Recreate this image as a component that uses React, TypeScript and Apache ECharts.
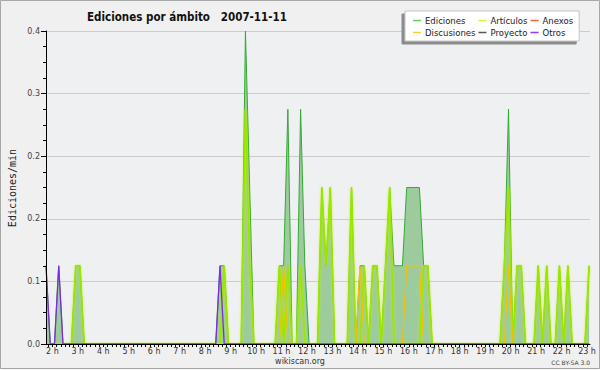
import React, { useEffect, useRef } from "react";
import * as echarts from "echarts";

// 10-minute bins starting at 1:45 (minutes since midnight)
const startMinute = 105;
const binMinutes = 10;

const ediciones = [
  0.1, 0, 0, 0.1, 0, 0, 0, 0.1, 0.1, 0,
  0, 0, 0, 0, 0, 0, 0, 0, 0, 0,
  0, 0, 0, 0, 0, 0, 0, 0, 0, 0,
  0, 0, 0, 0, 0, 0, 0, 0, 0, 0,
  0, 0.1, 0.1, 0, 0, 0, 0, 0.4, 0.2, 0,
  0, 0, 0, 0, 0, 0.1, 0.1, 0.3, 0, 0,
  0.3, 0.1, 0, 0, 0, 0.2, 0.1, 0.2, 0, 0,
  0, 0, 0.2, 0, 0.1, 0.1, 0, 0.1, 0.1, 0,
  0.1, 0.2, 0.1, 0.1, 0.1, 0.2, 0.2, 0.2, 0.2, 0.1,
  0.1, 0, 0, 0, 0, 0, 0, 0, 0, 0,
  0, 0, 0, 0, 0, 0, 0, 0, 0.1, 0.3,
  0, 0.1, 0.1, 0, 0, 0, 0.1, 0, 0.1, 0,
  0, 0.1, 0, 0.1, 0, 0, 0, 0, 0.1,
];

const articulos = [
  0, 0, 0, 0, 0, 0, 0, 0.1, 0.1, 0,
  0, 0, 0, 0, 0, 0, 0, 0, 0, 0,
  0, 0, 0, 0, 0, 0, 0, 0, 0, 0,
  0, 0, 0, 0, 0, 0, 0, 0, 0, 0,
  0, 0, 0.1, 0, 0, 0, 0, 0.3, 0.1, 0,
  0, 0, 0, 0, 0, 0.1, 0, 0.1, 0, 0,
  0.1, 0, 0, 0, 0, 0.2, 0.1, 0.2, 0, 0,
  0, 0, 0.2, 0, 0, 0.1, 0, 0.1, 0.1, 0,
  0.1, 0.2, 0, 0, 0, 0, 0, 0, 0, 0.1,
  0.1, 0, 0, 0, 0, 0, 0, 0, 0, 0,
  0, 0, 0, 0, 0, 0, 0, 0, 0.1, 0.2,
  0, 0.1, 0.1, 0, 0, 0, 0.1, 0, 0.1, 0,
  0, 0.1, 0, 0.1, 0, 0, 0, 0, 0.1,
];

const discusiones = [
  0, 0, 0, 0, 0, 0, 0, 0, 0, 0,
  0, 0, 0, 0, 0, 0, 0, 0, 0, 0,
  0, 0, 0, 0, 0, 0, 0, 0, 0, 0,
  0, 0, 0, 0, 0, 0, 0, 0, 0, 0,
  0, 0, 0, 0, 0, 0, 0, 0, 0, 0,
  0, 0, 0, 0, 0, 0, 0.1, 0, 0, 0,
  0, 0, 0, 0, 0, 0, 0, 0, 0, 0,
  0, 0, 0, 0, 0.1, 0, 0, 0, 0, 0,
  0, 0, 0, 0, 0, 0.1, 0.1, 0.1, 0.1, 0,
  0, 0, 0, 0, 0, 0, 0, 0, 0, 0,
  0, 0, 0, 0, 0, 0, 0, 0, 0, 0.1,
  0, 0, 0, 0, 0, 0, 0, 0, 0, 0,
  0, 0, 0, 0, 0, 0, 0, 0, 0,
];

const otros = [
  0.1, 0, 0, 0.1, 0, 0, 0, 0, 0, 0,
  0, 0, 0, 0, 0, 0, 0, 0, 0, 0,
  0, 0, 0, 0, 0, 0, 0, 0, 0, 0,
  0, 0, 0, 0, 0, 0, 0, 0, 0, 0,
  0, 0.1, 0, 0, 0, 0, 0, 0, 0, 0,
  0, 0, 0, 0, 0, 0, 0, 0, 0, 0,
  0, 0, 0, 0, 0, 0, 0, 0, 0, 0,
  0, 0, 0, 0, 0, 0, 0, 0, 0, 0,
  0, 0, 0, 0, 0, 0, 0, 0, 0, 0,
  0, 0, 0, 0, 0, 0, 0, 0, 0, 0,
  0, 0, 0, 0, 0, 0, 0, 0, 0, 0,
  0, 0, 0, 0, 0, 0, 0, 0, 0, 0,
  0, 0, 0, 0, 0, 0, 0, 0, 0,
];

const proyecto: number[] = [];
const anexos: number[] = [];

const hourLabels = [2, 3, 4, 5, 6, 7, 8, 9, 10, 11, 12, 13, 14, 15, 16, 17, 18, 19, 20, 21, 22, 23];
const yTicks = [0, 0.08, 0.16, 0.24, 0.32, 0.4];

const legendOrder = ["Ediciones", "Discusiones", "Artículos", "Proyecto", "Anexos", "Otros"];
const legendColors: Record<string, string> = {
  Ediciones: "#66cc66",
  Artículos: "#ccff33",
  Anexos: "#ff6633",
  Discusiones: "#ffcc33",
  Proyecto: "#555555",
  Otros: "#9933ff",
};

const toPairs = (vals: number[]) => vals.map((v, i) => [startMinute + binMinutes * i, v]);

export default function App() {
  const ref = useRef<HTMLDivElement>(null);
  useEffect(() => {
    if (!ref.current) return;
    const chart = echarts.init(ref.current, undefined, { renderer: "svg", width: 600, height: 370 });
    const xMin = startMinute;
    const xMax = 1387;
    const tickVals: number[] = [];
    for (let m = 110; m <= 1380; m += 10) tickVals.push(m);
    const hourVals = hourLabels.map((h) => h * 60);
    const axisFont = "DejaVu Sans";

    const option: any = {
      animation: false,
      backgroundColor: "#f0f0f0",
      grid: {
        left: 46, right: 10, top: 31, bottom: 26,
        show: true, backgroundColor: "#eef0f2", borderWidth: 0,
      },
      legend: {
        orient: "vertical",
        left: 405, top: 11, height: 30,
        padding: [5, 6, 4, 8],
        itemGap: 3, itemWidth: 8, itemHeight: 1.5, icon: "rect",
        backgroundColor: "#ffffff", borderColor: "#c4c4c4", borderWidth: 1,
        shadowColor: "#8c8c8c", shadowBlur: 0.5, shadowOffsetX: -3, shadowOffsetY: 3,
        textStyle: { fontFamily: axisFont, fontSize: 8.5, color: "#222", lineHeight: 7, padding: [0, 0, 0, -1] },
        data: legendOrder.map((n) => ({ name: n, itemStyle: { color: legendColors[n] } })),
      },
      xAxis: [
        {
          type: "value", min: xMin, max: xMax, z: 10,
          splitLine: { show: false },
          axisLine: { lineStyle: { color: "#000", width: 1 } },
          axisTick: { show: true, customValues: tickVals, length: 3, lineStyle: { color: "#000" } },
          axisLabel: {
            customValues: hourVals, interval: 0, hideOverlap: false,
            formatter: (v: number) => `${Math.round(v / 60)} h`,
            fontSize: 8, fontFamily: axisFont, color: "#333", margin: 3,
          },
        },
      ],
      yAxis: [
        {
          type: "value", min: 0, max: 0.4, interval: 0.08,
          axisLine: { show: false },
          axisTick: { show: false },
          axisLabel: {
            customValues: yTicks,
            formatter: (v: number) => v.toFixed(1),
            fontSize: 8, fontFamily: axisFont, color: "#444", margin: 6,
          },
          splitLine: { show: true, lineStyle: { color: "#cccccc", width: 1 } },
        },
        {
          type: "value", min: 0, max: 0.4, interval: 0.08, position: "left", z: 10,
          axisLine: { show: true, lineStyle: { color: "#000", width: 1 } },
          axisTick: { show: true, length: 5, lineStyle: { color: "#000" } },
          minorTick: { show: true, splitNumber: 4, length: 3, lineStyle: { color: "#000" } },
          axisLabel: { show: false },
          splitLine: { show: false },
        },
      ],
      series: [
        {
          name: "Ediciones", type: "line", data: toPairs(ediciones), showSymbol: false, z: 2,
          itemStyle: { color: legendColors.Ediciones },
          lineStyle: { color: "#35a835", width: 1 },
          areaStyle: { color: "#9ecb9e", opacity: 1 },
        },
        {
          name: "Artículos", type: "line", data: toPairs(articulos), showSymbol: false, z: 3,
          itemStyle: { color: legendColors["Artículos"] },
          lineStyle: { color: "#9be600", width: 1.6, shadowColor: "rgba(190,240,0,0.8)", shadowBlur: 2 },
        },
        {
          name: "Anexos", type: "line", data: anexos, showSymbol: false, z: 3,
          itemStyle: { color: legendColors.Anexos },
          lineStyle: { color: "#ff6633", width: 1 },
        },
        {
          name: "Discusiones", type: "line", data: toPairs(discusiones), showSymbol: false, z: 4,
          itemStyle: { color: legendColors.Discusiones },
          lineStyle: { color: "#f2c200", width: 1.3 },
        },
        {
          name: "Proyecto", type: "line", data: proyecto, showSymbol: false, z: 4,
          itemStyle: { color: legendColors.Proyecto },
          lineStyle: { color: "#555555", width: 1 },
        },
        {
          name: "Otros", type: "line", data: toPairs(otros), showSymbol: false, z: 5,
          itemStyle: { color: legendColors.Otros },
          lineStyle: { color: "#7a2de0", width: 1.3 },
        },
      ],
      graphic: [
        {
          type: "rect", z: 100, silent: true,
          shape: { x: 0.5, y: 0.5, width: 599, height: 368 },
          style: { fill: "none", stroke: "#a8a8a8", lineWidth: 1 },
        },
        {
          type: "text", x: 187, y: 17, z: 100,
          style: {
            text: "Ediciones por ámbito   2007-11-11",
            font: 'bold 11.5px "DejaVu Sans Condensed", "Liberation Sans", sans-serif',
            fill: "#111", align: "center", verticalAlign: "middle",
          },
        },
        {
          type: "text", x: 12, y: 188, rotation: Math.PI / 2, z: 100,
          style: {
            text: "Ediciones/min",
            font: '10px "DejaVu Sans Mono", monospace',
            fill: "#222", align: "center", verticalAlign: "middle",
          },
        },
        {
          type: "text", x: 300, y: 361, z: 100,
          style: {
            text: "wikiscan.org", font: '8px "DejaVu Sans"', fill: "#333",
            align: "center", verticalAlign: "middle",
          },
        },
        {
          type: "text", x: 590, y: 362, z: 100,
          style: {
            text: "CC BY-SA 3.0", font: '6px "DejaVu Sans"', fill: "#444",
            align: "right", verticalAlign: "middle",
          },
        },
      ],
    };
    chart.setOption(option);
    return () => chart.dispose();
  }, []);
  return (
    <div
      ref={ref}
      style={{ position: "absolute", left: 0, top: 0, width: 600, height: 370 }}
    />
  );
}
